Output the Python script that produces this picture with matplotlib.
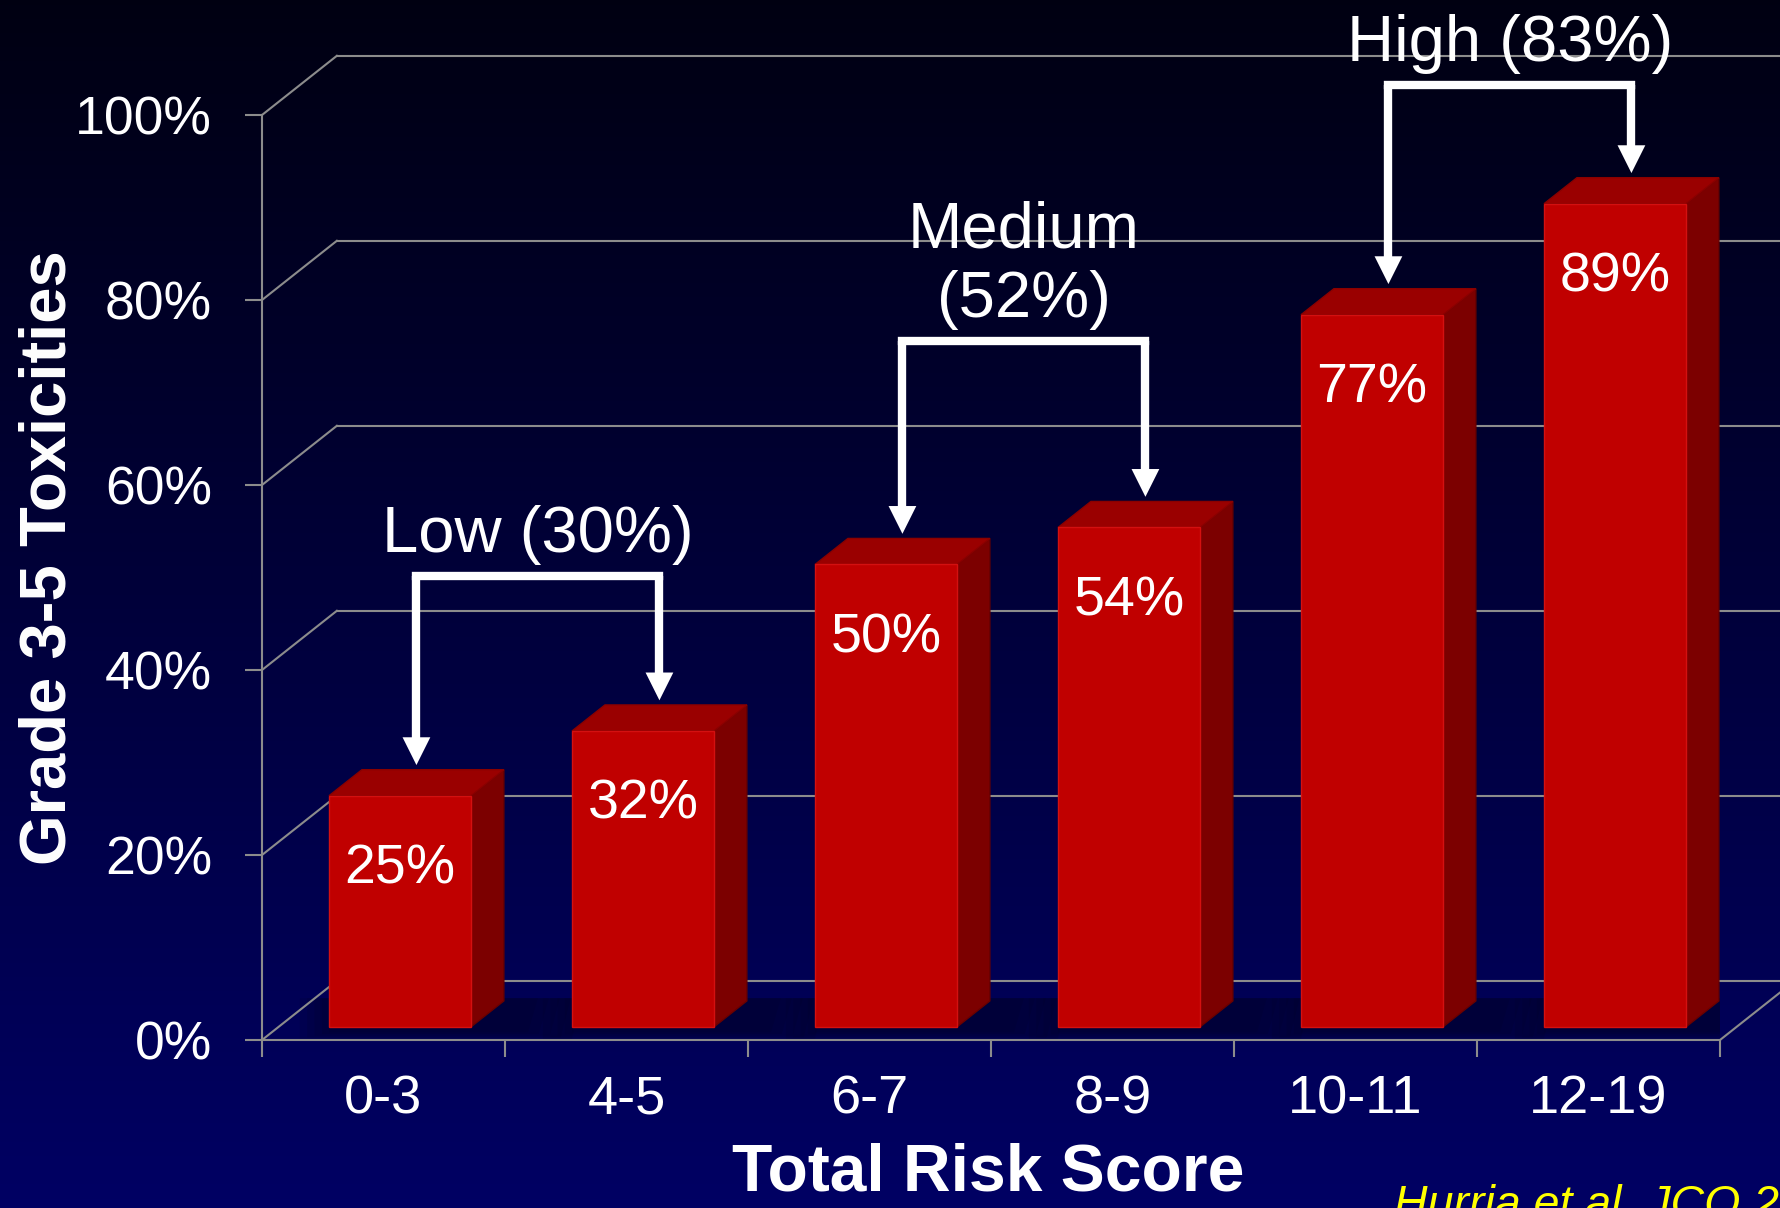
import numpy as np
import matplotlib
matplotlib.use('Agg')
import matplotlib.pyplot as plt
from matplotlib.patches import Polygon

plt.rcParams['font.family'] = ['Liberation Sans', 'DejaVu Sans']

# data
categories = ['0-3', '4-5', '6-7', '8-9', '10-11', '12-19']
toxicity = [25, 32, 50, 54, 77, 89]
group_names = ['Low (30%)', 'Medium\n(52%)', 'High (83%)']
group_bars = [(0, 1), (2, 3), (4, 5)]
yticks = [0, 20, 40, 60, 80, 100]

# layout of the fake 3d box
bracket_y = [50.2, 75.6, 103.2]
DX, DY = 0.308, 6.4       # depth of the box, in data units
FRONT = 0.22              # where the bar front sits in the depth
SIDE = 0.44               # bar depth
WIDTH = 0.584
grid = '#8c8c8c'

fig = plt.figure(figsize=(17.8, 12.08), dpi=100)

# background gradient
bg = fig.add_axes([0, 0, 1, 1], zorder=-10)
rgb = np.zeros((256, 1, 3))
rgb[..., 2] = np.linspace(0.39, 0.07, 256).reshape(-1, 1)
bg.imshow(rgb, aspect='auto', extent=[0, 1, 0, 1], origin='lower')
bg.axis('off')

ax = fig.add_axes([262 / 1780, 168 / 1208, 1458 / 1780, 925 / 1208])
ax.patch.set_alpha(0)
n = len(categories)
ax.set_xlim(0, n)
ax.set_ylim(0, 100)

# walls
for v in yticks:
    ax.plot([0, DX], [v, v + DY], color=grid, lw=1.5, clip_on=False, zorder=1)
    ax.plot([DX, n + DX], [v + DY, v + DY], color=grid, lw=1.5, clip_on=False, zorder=1)
ax.plot([n, n + DX], [0, DY], color=grid, lw=1.5, clip_on=False, zorder=1)

# bars
x = np.arange(n) + 0.5 + FRONT * DX
bars = ax.bar(x, toxicity, WIDTH, bottom=FRONT * DY, color='#c00000',
              edgecolor='#d41010', lw=1, zorder=5)
sdx, sdy = SIDE * DX, SIDE * DY
for b, v in zip(bars, toxicity):
    xl = b.get_x()
    xr = xl + b.get_width()
    y0 = b.get_y()
    y1 = y0 + b.get_height()
    # soft shadow on the floor
    for k in range(5):
        g = 0.03 * k
        ax.add_patch(Polygon([(xl - g, y0 - 0.6 - g * 6), (xr + sdx + 0.1 + g * 1.5, y0 - 0.6 - g * 6),
                              (xr + sdx + 0.14 + g * 1.5, y0 + sdy + 0.3), (xl - g, y0 + sdy + 0.3)],
                             fc='#000020', ec='none', alpha=0.13, zorder=0.5))
    ax.add_patch(Polygon([(xr, y0), (xr + sdx, y0 + sdy), (xr + sdx, y1 + sdy), (xr, y1)],
                         fc='#7c0000', ec='#6a0000', lw=1, zorder=4, clip_on=False))
    ax.add_patch(Polygon([(xl, y1), (xl + sdx, y1 + sdy), (xr + sdx, y1 + sdy), (xr, y1)],
                         fc='#9a0000', ec='#8a0000', lw=1, zorder=4, clip_on=False))
    ax.text(xl + WIDTH / 2, y1 - 8, f'{v}%', ha='center', va='center',
            color='white', fontsize=40, zorder=6)

# group brackets
for name, (i, j), by in zip(group_names, group_bars, bracket_y):
    xs = []
    for k in (i, j):
        b = bars[k]
        xa = b.get_x() + WIDTH / 2 + sdx / 2
        tip = b.get_y() + b.get_height() + sdy + 0.5
        xs.append(xa)
        ax.plot([xa, xa], [by, tip + 2.5], color='white', lw=6,
                solid_capstyle='butt', clip_on=False, zorder=7)
        ax.annotate('', xy=(xa, tip), xytext=(xa, tip + 4),
                    arrowprops=dict(arrowstyle='-|>,head_length=0.5,head_width=0.25',
                                    color='white', lw=0, shrinkA=0, shrinkB=0,
                                    mutation_scale=40),
                    annotation_clip=False, zorder=7)
    ax.plot(xs, [by, by], color='white', lw=6, solid_capstyle='projecting',
            clip_on=False, zorder=7)
    ax.annotate(name, xy=(sum(xs) / 2, by), xytext=(0, 8), textcoords='offset points',
                ha='center', va='bottom', fontsize=47, color='white',
                annotation_clip=False, zorder=8)

# axes
ax.set_xticks(range(n + 1))
ax.set_xticklabels([])
ax.set_xticks(np.arange(n) + 0.5, minor=True)
ax.set_xticklabels(categories, minor=True)
ax.tick_params(axis='x', which='major', length=12, width=1.5, color=grid)
ax.tick_params(axis='x', which='minor', length=0, pad=25, labelsize=39, labelcolor='white')
ax.set_yticks(yticks)
ax.set_yticklabels([f'{v}%' for v in yticks])
ax.tick_params(axis='y', length=12, width=1.5, color=grid, pad=24,
               labelsize=38.5, labelcolor='white')
for s in ['top', 'right']:
    ax.spines[s].set_visible(False)
for s in ['left', 'bottom']:
    ax.spines[s].set_color(grid)
    ax.spines[s].set_linewidth(1.5)

ax.set_xlabel('Total Risk Score', fontsize=47.5, fontweight='bold', color='white')
ax.xaxis.set_label_coords(0.498, -0.111)
ax.set_ylabel('Grade 3-5 Toxicities', fontsize=47, fontweight='bold', color='white')
ax.yaxis.set_label_coords(-0.126, 0.521)

fig.text(1394 / 1780, 0.0199, 'Hurria et al, JCO 2011', color='#ffff00',
         fontsize=33.5, style='italic', ha='left', va='top')

fig.savefig('out.png', dpi=100)
